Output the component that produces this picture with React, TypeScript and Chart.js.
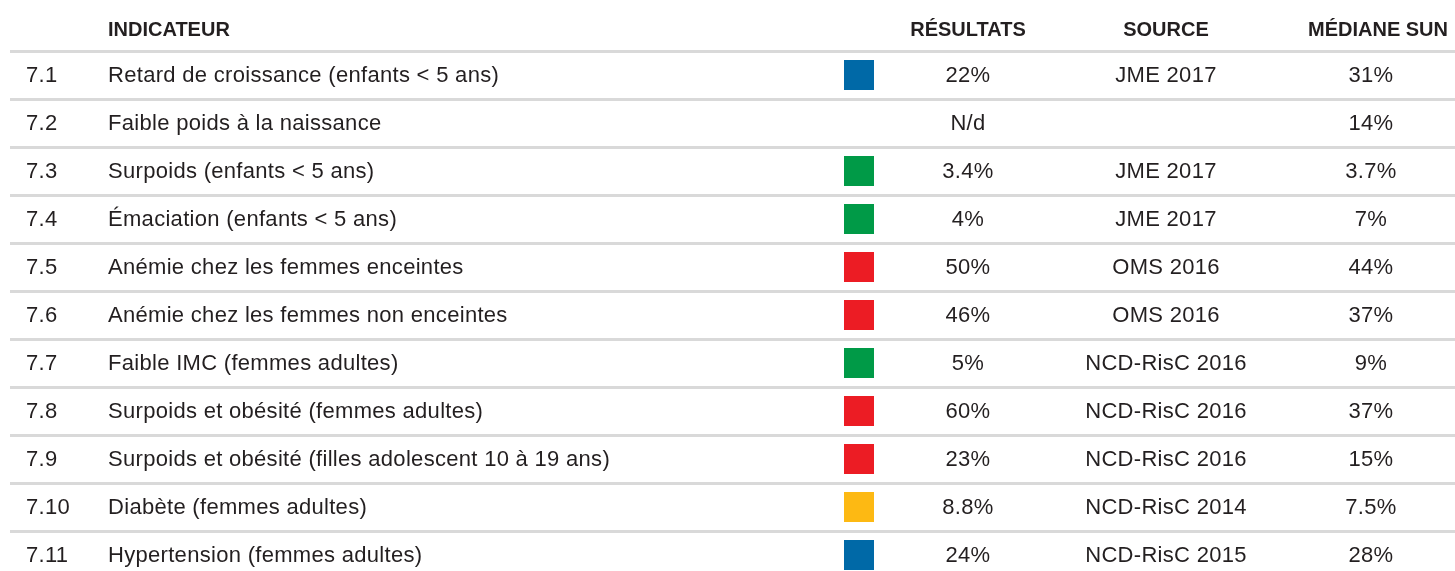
import React, { useEffect, useRef } from 'react';
import { Chart, registerables } from 'chart.js';

Chart.register(...registerables);

// ---- Data ----
const rowIds = ['7.1', '7.2', '7.3', '7.4', '7.5', '7.6', '7.7', '7.8', '7.9', '7.10', '7.11'];
const indicators = [
  'Retard de croissance (enfants < 5 ans)',
  'Faible poids à la naissance',
  'Surpoids (enfants < 5 ans)',
  'Émaciation (enfants < 5 ans)',
  'Anémie chez les femmes enceintes',
  'Anémie chez les femmes non enceintes',
  'Faible IMC (femmes adultes)',
  'Surpoids et obésité (femmes adultes)',
  'Surpoids et obésité (filles adolescent 10 à 19 ans)',
  'Diabète (femmes adultes)',
  'Hypertension (femmes adultes)',
];
const results = ['22%', 'N/d', '3.4%', '4%', '50%', '46%', '5%', '60%', '23%', '8.8%', '24%'];
const sources = ['JME 2017', '', 'JME 2017', 'JME 2017', 'OMS 2016', 'OMS 2016', 'NCD-RisC 2016', 'NCD-RisC 2016', 'NCD-RisC 2016', 'NCD-RisC 2014', 'NCD-RisC 2015'];
const medians = ['31%', '14%', '3.7%', '7%', '44%', '37%', '9%', '37%', '15%', '7.5%', '28%'];
const statuses = ['blue', '', 'green', 'green', 'red', 'red', 'green', 'red', 'red', 'yellow', 'blue'];
const headers = ['INDICATEUR', 'RÉSULTATS', 'SOURCE', 'MÉDIANE SUN'];

// ---- Styles / layout ----
const STATUS_COLORS: Record<string, string> = {
  blue: '#0069a7',
  green: '#009a47',
  red: '#ec1c24',
  yellow: '#fdb913',
};
const TEXT_COLOR = '#231f20';
const COL = {
  id: 26,
  indicator: 108,
  square: 859,
  result: 968,
  source: 1166,
  median: 1371,
  medianHeader: 1378,
};
const HEADER_ROW = -0.93;
const BODY_FONT = "22px 'Liberation Sans', Arial, sans-serif";
const HEADER_FONT = "bold 20px 'Liberation Sans', Arial, sans-serif";

const tablePlugin = {
  id: 'tableText',
  afterDatasetsDraw(chart: any) {
    const { ctx, scales } = chart;
    const xs = scales.x;
    const ys = scales.y;
    ctx.save();
    ctx.fillStyle = TEXT_COLOR;
    ctx.textBaseline = 'middle';

    // header
    ctx.font = HEADER_FONT;
    (ctx as any).letterSpacing = '0px';
    const hy = ys.getPixelForValue(HEADER_ROW);
    const headerCols = [
      { x: COL.indicator, align: 'left' },
      { x: COL.result, align: 'center' },
      { x: COL.source, align: 'center' },
      { x: COL.medianHeader, align: 'center' },
    ];
    headers.forEach((h, i) => {
      ctx.textAlign = headerCols[i].align;
      ctx.fillText(h, xs.getPixelForValue(headerCols[i].x), hy);
    });

    // body
    ctx.font = BODY_FONT;
    (ctx as any).letterSpacing = '0.3px';
    rowIds.forEach((id, i) => {
      const y = ys.getPixelForValue(i) + 1;
      ctx.textAlign = 'left';
      ctx.fillText(id, xs.getPixelForValue(COL.id), y);
      ctx.fillText(indicators[i], xs.getPixelForValue(COL.indicator), y);
      ctx.textAlign = 'center';
      ctx.fillText(results[i], xs.getPixelForValue(COL.result), y);
      ctx.fillText(sources[i], xs.getPixelForValue(COL.source), y);
      ctx.fillText(medians[i], xs.getPixelForValue(COL.median), y);
    });
    ctx.restore();
  },
};

export default function App() {
  const ref = useRef<HTMLCanvasElement | null>(null);
  useEffect(() => {
    if (!ref.current) return;
    const pts: { x: number; y: number }[] = [];
    const colors: string[] = [];
    statuses.forEach((s, i) => {
      if (s) {
        pts.push({ x: COL.square, y: i });
        colors.push(STATUS_COLORS[s]);
      }
    });
    const chart = new Chart(ref.current, {
      type: 'scatter',
      data: {
        datasets: [
          {
            data: pts,
            pointStyle: 'rect',
            pointRadius: 15 / Math.SQRT1_2,
            pointHoverRadius: 15 / Math.SQRT1_2,
            pointBackgroundColor: colors,
            pointBorderWidth: 0,
            borderWidth: 0,
            clip: false,
          } as any,
        ],
      },
      options: {
        responsive: false,
        animation: false,
        events: [],
        layout: { autoPadding: false, padding: { left: 10, right: 0, top: 0, bottom: 0 } },
        plugins: { legend: { display: false }, tooltip: { enabled: false } },
        scales: {
          x: { type: 'linear', min: 10, max: 1455, display: false },
          y: {
            type: 'linear',
            reverse: true,
            min: -1.5625,
            max: 10.333,
            display: true,
            ticks: { display: false },
            border: { display: false },
            grid: { color: '#d9d9d9', lineWidth: 3, drawTicks: false, tickLength: 0 },
            afterBuildTicks: (axis: any) => {
              axis.ticks = rowIds.map((_, i) => ({ value: i - 0.5 }));
            },
          },
        },
      },
      plugins: [tablePlugin],
    });
    return () => chart.destroy();
  }, []);
  return (
    <div style={{ position: 'absolute', left: 0, top: 0, width: 1455, height: 571, background: '#fff' }}>
      <canvas ref={ref} width={1455} height={571} />
    </div>
  );
}
